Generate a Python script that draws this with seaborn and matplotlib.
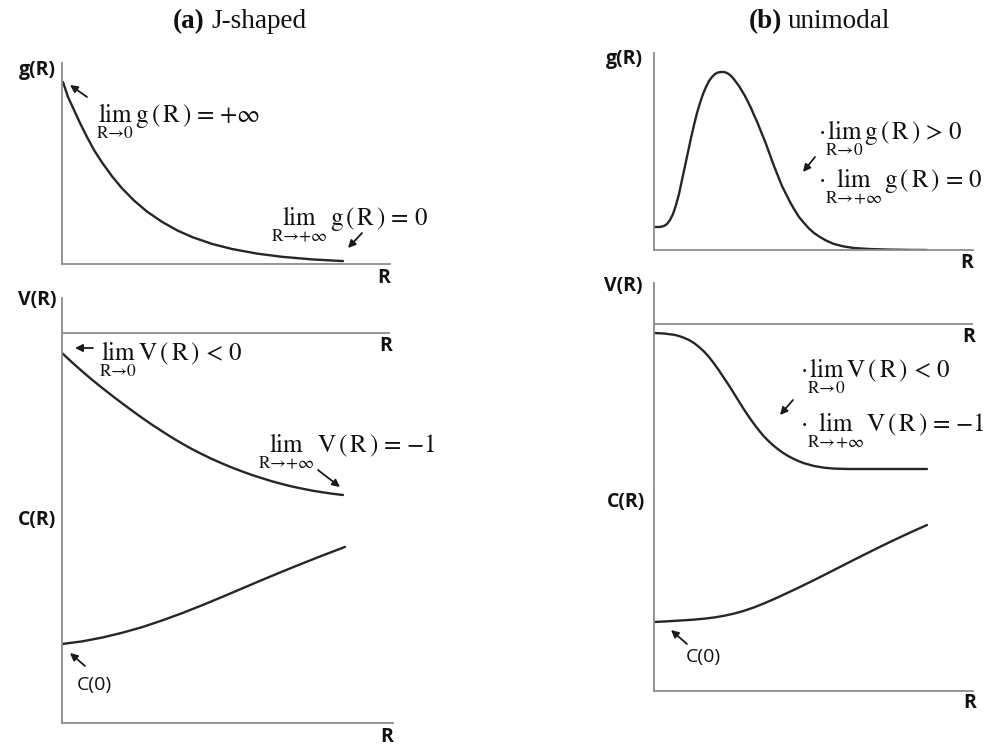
import matplotlib
matplotlib.use("Agg")
import matplotlib.pyplot as plt
import seaborn as sns
import pandas as pd

# ---------------- data ----------------
# (a) J-shaped
j_g_R = [1, 6, 12, 18, 25, 32, 40, 50, 60, 72, 85, 100, 115, 130, 150, 170, 195, 220, 250, 281]
j_g_val = [182, 167, 154, 141, 127, 114, 101.6, 87.7, 75.7, 63.5, 52.4, 42.2, 33.7, 27, 20.1, 15,
           10.4, 7.2, 4.6, 2.9]

j_V_R = [0, 10, 20, 30, 40, 50, 60, 70, 80, 90, 100, 110, 120, 130, 140, 150, 160, 170, 180, 190,
         200, 210, 220, 230, 240, 250, 260, 270, 281]
j_V_val = [-20, -29.3, -38.2, -46.7, -54.8, -62.6, -70.2, -77.6, -84.8, -91.7, -98.2, -104.6, -110.5,
           -116.1, -121.2, -126.0, -130.4, -134.6, -138.4, -142.0, -145.2, -148.3, -151.0, -153.5,
           -155.6, -157.6, -159.2, -160.7, -162.0]

j_C_R = [0, 20, 40, 60, 80, 100, 120, 140, 160, 180, 200, 220, 240, 260, 283]
j_C_val = [79, 81.6, 85.4, 90.2, 95.8, 102.5, 109.8, 117.7, 126.0, 134.5, 143.0, 151.3, 159.4,
           167.3, 176.1]

# (b) unimodal
u_g_R = [0, 6, 10, 13, 16, 19, 22, 25, 28, 31, 34, 37, 40, 43, 46, 49, 52, 55, 58, 61, 64, 67, 70,
         73, 76, 79, 82, 85, 88, 91, 94, 97, 100, 104, 108, 112, 116, 120, 124, 128, 132, 136, 140,
         145, 150, 155, 160, 166, 172, 180, 190, 200, 215, 235, 255, 273]
u_g_val = [23, 23, 24, 26, 30, 36, 45, 56, 70, 84, 98, 112, 125, 137, 147, 156, 163, 169, 173, 176,
           177.5, 178, 178, 177, 175, 172, 168, 164, 159, 154, 148, 142, 135, 126, 116, 106, 95, 84,
           74, 64, 56, 48, 41, 33, 27, 21.5, 17, 13, 9.5, 6, 3.5, 2, 1, 0.4, 0.1, 0]

u_V_R = [0, 10, 20, 25, 30, 35, 40, 45, 50, 55, 60, 65, 70, 75, 80, 85, 90, 95, 100, 105, 110, 115,
         120, 125, 130, 135, 140, 145, 150, 160, 170, 180, 195, 230, 273]
u_V_val = [-9, -9.5, -10.8, -12, -13.8, -16, -19, -23, -27.5, -33, -39.5, -46.5, -54, -61.5, -69.5,
           -77.5, -85.5, -93, -100, -106.5, -112.5, -117.5, -122, -126, -129.5, -132.5, -135,
           -137.3, -139.2, -142, -143.7, -144.6, -145, -145, -145]

u_C_R = [0, 10, 20, 30, 40, 50, 60, 70, 80, 90, 100, 110, 120, 130, 140, 150, 160, 170, 180, 190,
         200, 210, 220, 230, 240, 250, 260, 273]
u_C_val = [69, 69.5, 70.1, 70.7, 71.4, 72.3, 73.5, 75.2, 77.4, 80.2, 83.6, 87.6, 91.9, 96.5, 101.2,
           106, 110.9, 115.9, 121, 126.1, 131.2, 136.2, 141.2, 146.1, 150.9, 155.6, 160.2, 166]

titles_bold = ["(a)", "(b)"]
titles_text = ["J-shaped", "unimodal"]

# ---------------- styling ----------------
sns.set_theme(style="white")
plt.rcParams["font.family"] = ["DejaVu Sans"]
plt.rcParams["mathtext.fontset"] = "stix"

W, H = 992, 748
fig = plt.figure(figsize=(W / 100, H / 100), dpi=100)
fig.patch.set_facecolor("white")

AX_COL = "#8c8c8c"
LINE_COL = "#262626"
TXT_COL = "#111111"


def px_axes(x0, y0, x1, y1):
    ax = fig.add_axes([x0 / W, 1 - y1 / H, (x1 - x0) / W, (y1 - y0) / H])
    ax.set_facecolor("none")
    ax.set_xticks([])
    ax.set_yticks([])
    for s in ["top", "right"]:
        ax.spines[s].set_visible(False)
    for s in ["left", "bottom"]:
        ax.spines[s].set_color(AX_COL)
        ax.spines[s].set_linewidth(1.3)
    return ax


def T(x, y, s, **kw):
    kw.setdefault("color", TXT_COL)
    fig.text(x / W, 1 - y / H, s, **kw)


def arrow(tx, ty, hx, hy):
    fig.add_artist(matplotlib.patches.FancyArrowPatch(
        (tx / W, 1 - ty / H), (hx / W, 1 - hy / H), transform=fig.transFigure,
        arrowstyle="-|>", mutation_scale=11, color="#1a1a1a", lw=1.3,
        shrinkA=0, shrinkB=0))


def curve(ax, xs, ys):
    df = pd.DataFrame({"R": xs, "v": ys})
    sns.lineplot(data=df, x="R", y="v", ax=ax, color=LINE_COL, lw=1.7, estimator=None,
                 solid_joinstyle="round", solid_capstyle="round")
    ax.set_xlabel("")
    ax.set_ylabel("")


# ---------------- (a) J-shaped ----------------
ax = px_axes(62, 63, 390, 264)
curve(ax, j_g_R, j_g_val)
ax.set_xlim(0, 328); ax.set_ylim(0, 201)

ax = px_axes(62, 298, 390, 502)
curve(ax, j_V_R, j_V_val)
ax.spines["bottom"].set_visible(False)
ax.axhline(0, color=AX_COL, lw=1.3)
ax.set_xlim(0, 328); ax.set_ylim(-169, 35)

ax = px_axes(62, 502, 393, 723)
curve(ax, j_C_R, j_C_val)
ax.set_xlim(0, 331); ax.set_ylim(0, 221)

# ---------------- (b) unimodal ----------------
ax = px_axes(654, 53, 973, 250)
curve(ax, u_g_R, u_g_val)
ax.set_xlim(0, 319); ax.set_ylim(0, 197)

ax = px_axes(654, 283, 973, 481)
curve(ax, u_V_R, u_V_val)
ax.spines["bottom"].set_visible(False)
ax.axhline(0, color=AX_COL, lw=1.3)
ax.set_xlim(0, 319); ax.set_ylim(-157, 41)

ax = px_axes(654, 483, 973, 691)
curve(ax, u_C_R, u_C_val)
ax.set_xlim(0, 319); ax.set_ylim(0, 208)

# ---------------- titles ----------------
serif = "Liberation Serif"
T(205, 28, titles_bold[0], family=serif, weight="bold", size=19.5, ha="right", va="baseline")
T(211, 28, titles_text[0], family=serif, size=19.5, ha="left", va="baseline")
T(782, 28, titles_bold[1], family=serif, weight="bold", size=19.5, ha="right", va="baseline")
T(788, 28, titles_text[1], family=serif, size=19.5, ha="left", va="baseline")

# ---------------- axis labels ----------------
lab = dict(family="Open Sans", weight="bold", size=14, va="center")
T(56, 70, "g(R)", ha="right", **lab)
T(56, 300, "V(R)", ha="right", **lab)
T(56, 520, "C(R)", ha="right", **lab)
T(643, 59, "g(R)", ha="right", **lab)
T(643, 286, "V(R)", ha="right", **lab)
T(645, 502, "C(R)", ha="right", **lab)
for (x, y) in [(384, 278), (386, 346), (387, 737), (967, 263), (969, 337), (970, 703)]:
    T(x, y, "R", ha="center", **lab)

# ---------------- annotations ----------------
ms = 18
sp = r"\ "
gR = r"\mathrm{g}\,\left(\,\mathrm{R}\,\right)"
VR = r"\mathrm{V}\,\left(\,\mathrm{R}\,\right)"
lim0 = r"\lim_{\mathrm{R}\to0}\,"
liminf = r"\lim_{\mathrm{R}\to+\infty}\,"
T(96, 122, "$" + lim0 + gR + sp + "=" + sp + r"+\infty$", size=ms, va="baseline")
T(271, 226, "$" + liminf + gR + sp + "=" + sp + "0$", size=ms, va="baseline")
T(99, 360, "$" + lim0 + VR + sp + "<" + sp + "0$", size=ms, va="baseline")
T(258, 453, "$" + liminf + VR + sp + "=" + sp + "-1$", size=ms, va="baseline")
T(818, 139, r"$\cdot" + lim0 + gR + sp + ">" + sp + "0$", size=ms, va="baseline")
T(818, 188, r"$\cdot" + liminf + gR + sp + "=" + sp + "0$", size=ms, va="baseline")
T(800, 377, r"$\cdot" + lim0 + VR + sp + "<" + sp + "0$", size=ms, va="baseline")
T(800, 432, r"$\cdot" + liminf + VR + sp + "=" + sp + "-1$", size=ms, va="baseline")

c0 = dict(family="Open Sans", size=14, va="baseline", ha="left")
T(77, 690, "C(0)", **c0)
T(686, 662, "C(0)", **c0)

arrow(87, 97, 70, 85)
arrow(362, 233, 348, 248)
arrow(93, 348, 75, 348)
arrow(318, 470, 340, 487)
arrow(85, 666, 70, 653)
arrow(815, 157, 803, 172)
arrow(793, 400, 780, 415)
arrow(687, 644, 671, 630)

fig.savefig("out.png", dpi=100, facecolor="white")
